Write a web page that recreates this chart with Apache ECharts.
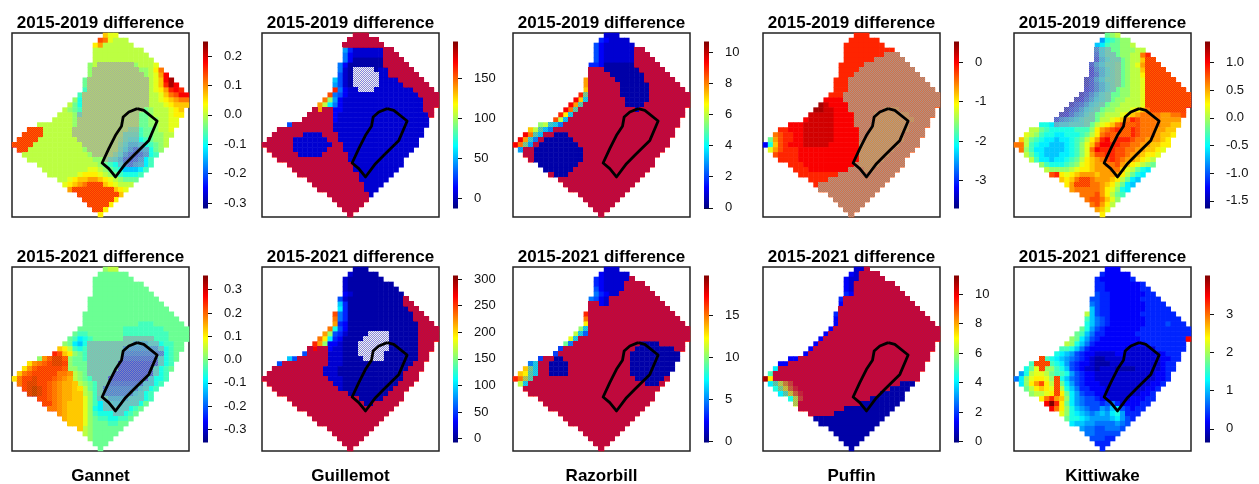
<!DOCTYPE html>
<html><head><meta charset="utf-8">
<style>html,body{margin:0;padding:0;background:#fff}#c{width:1259px;height:484px}</style>
<script src="https://cdn.jsdelivr.net/npm/echarts@6/dist/echarts.min.js"></script>
</head><body><div id="c"></div>
<script>
// Grid rows: run-length codes (count + letter). a..z = level along the colour scale, A..Z = same level, stippled.
const rowStart=[18,17,16,16,16,16,15,15,15,14,14,14,13,12,11,10,9,8,5,3,2,1,0,1,2,3,5,6,7,9,10,11,13,14,15,16,17];
const gannet2019=["rpp","utp3o","qs6o","10o","11o","12o","no7On3op","n9O2noqt","n10Onopsw","m12Ooprwy","m12Ooprvyw","l12Oopqsvwv","l13O2oprtu2w","nk13O2opqrs2t","omk13O3opq3r","onml12Omn3opqr","3onL11O2mn3op2q","4on12O2m2n2o2p","7on12O2m2n2o2p","3W6o11O2Ml2mn2op","4W6o10O3Ll2m2n2o","4W8o8ONL2Kklm2no","4W10o7OMK2IJklmno","2W11on6OLJHFHIkmn","13on4OMKHFEFHkl","13o2nNLKIFEFHjl","12onmlkJGFHIjl","9o2ponmlk3ijl","6op3qponml3kl","2opq2r2srqpon3m","pqrst3Wrqp3o","s8Wrqp","8Wr","6Wq","4Wq","2Wq","q"];
const guillemot2019=["3W","6W","8W","he6c2W","gd6c3W","gd6b4W","gd7b5W","gcb4Cb2c5W","fcb5C2c6W","ifcb5C4c5W","hfcb5C5c5W","vgd2c3C8c4W","ugfd14c4W","tnhd16c3W","sojgd16c3W","Ws2W2d16c2W","5Wd18cW","6Wd18c","f8W19c","11W18c","6W4c3W17c","5W7c2W16c","6W8c2W15c","5W7c3W14c","5W5c5W12c","14W11c","13W10c","12W9c","12W7c","10W6c","10W4c","9W3c","8Wc","7W","5W","3W","W"];
const razorbill2019=["3c","ed4c","fd6c","fd6c2W","fd6c3W","fd6c4W","2ed6b5W","3W7b5W","4W7b5W","s5W6b6W","s6W6b6W","r6W6b7W","vN6W6b8W","wrK7W5b8W","wsM8W4b9W","wtM11Wc9W","vqK22W","uoJ22W","noLKH23W","roMJH24W","wtMJ2W3b21W","wsLHW6b19W","wtNIW8b18W","I2W10b16W","2W10b15W","W10b14W","8b15W","6b15W","W3b15W","16W","14W","12W","9W","7W","5W","3W","W"];
const puffin2019=["3v","6v","8v","10v","8v3U","6v6U","5v9U","4v11U","3v13U","3v15U","3v16U","3v17U","3v19U","4w19U","yx4w18U","2y2x3w7U3T7U","5x4w4U7T5U","w5x4w4U8T3U","3w6x4w4U7T4U","2v3w6x5w2U8T3U","tu2v2w6x5w2U7T4U","msu2v2w6x5wU8T3U","dkruv3w5x6w8T4U","psu3v12w7T4U","u4v12w6T4U","4v12w5T4U","3v10wU4T5U","3v8w3U2T5U","8v11U","4v12U","v13U","12U","9U","7U","5U","3U","U"];
const kittiwake2019=["mno","hklm2n","ijl2m2no","GJL2m3n2o","FJ2Lm2n2otv","EIK2Lmn2or2W","EHJ2LMmnops3W","DGIKLMmn2or4W","DFIKLMmn2oq5W","CEHJ2LMmn2op6W","CEGIKLMmn2op7W","DEGIKLm2n2op8W","CEGIKL2m2n2op9W","CDFHJKLm2n3op9W","CEFHJKLm2n4op9W","CEFHJKLm2n3opqrt7W","CDFHIKLmn3opqrs4t2s2tu","EGHIJK2Lm2opqrtvu4t4s","2kjI2J3KLmopqrtu2Vu4t2s2r","2oml5k3lnqstuv2Vvu3t2s2r","ponl2k2j3klmoqtu4Vvu3ts2rq","romlk2ji2jklmoqsvwV3vu2t3srq","2tolk2j3ijklnpru2w2v2u2t2s2r2q","tnl2j4ijklnptw3v2u2t2s2rqp","omkj3i2jklnps2u2v2ut2sr2qp","ol2ji2jklmoqrstuvut2srqpo","nl3klmnpqr2s2tusrqponm","o4nop2qr3s2trpomkj","uvqpqr3sr4sqomkj","rqrt2Wt3srqomji","qs3W2tsrqomji","s5tsqpnkj","3tusqoml","t2utrpn","tusqo","srp","q"];
const gannet2021=["n2o","6m","8m","10m","11m","12m","14m","15m","16m","18m","19m","11m3l6m","9m8l5m","m2l7m9l4m","mljkl6m6L3l4m","nmjik9L3I2Kk2l2m","rqolkl7L7HKkl2m","vurqnml7L8Gklm","nTV2XVn2ml7L7FKklm","QTUVW2XWn3m6L8EKkl","QTV5WV2n2m6L7EKklm","RUV5W2UTonm5L8EKkl","QU2WX3WVUTSonml3L8EJ2kl","UW2X2WVUT2SRonml2L7F2Jkl","WXYXWVUT2SRQomlL7GJKkl","XYXWVUT2S2RonlL6GJKkl","2WVUT2S2RpnlKL4I3Kkl","2WUTS3Rpnlj2K2J3Kkm","2UTS3Rpnkj5Kklm","TS3Rpnl3k2Kklm","S3Rpnm2l2k2lm","3Rpn3m2l2m","Ron6m","on5m","n4m","3m","m"];
const guillemot2021=["3b","c5b","c7b","c9b","c10b","dc10b","fc11bW","ie11b2W","je12b2W","uge13b2W","tge13b3W","sed14b3W","tkfd14b4W","snfec4b4C6b4W","tqjed4b5C6b4W","vsn2dc3b6C6b3W","Ww2Wd2c3b6C6b3W","f4W3c3b5C7b2W","if6W3c4b4C7b2W","f9W3c14b2W","10W3c14b3W","11W3c13b3W","13W3c12b3W","13W2c11b3W","13Wc10b3W","14W8b3W","14W5b4W","14W2b5W","19W","16W","14W","12W","9W","7W","5W","3W","W"];
const razorbill2021=["3c","d5c","ed5cW","ed4c4W","fd4c5W","ged2c7W","gfdc10W","2Wdc11W","16W","v17W","t18W","q19W","nK20W","oKG20W","pK22W","mH13W4b5W","F14W8b2W","F14W10b","F2W2b13W10b","HK2W4b12W9b","rNK2W4b12W9b","rqMK2W4b12W8b","vtPM20W6bW","oK23W3bW","27W","25W","23W","21W","19W","16W","14W","12W","9W","7W","5W","3W","W"];
const puffin2021=["2cW","dc4W","d2c5W","dc8W","dc9W","ed10W","e13W","d14W","16W","e17W","d18W","d19W","d21W","d22W","d23W","d23W","d24W","d24W","2d26W","2d27W","j29W","l29W","yq29W","jMPSU21W3b","kNQTV18W4b","jMQTV15W5b","kPU13W7b","P12W8b","9W10b","5W11b","14b","12b","9b","7b","5b","3b","b"];
const kittiwake2021=["3d","e5d","e6de","2e7de","2e7d2e","f2e7d2e","2f2e6d4e","gf2e7d4e","if2e7d5e","oif2e6d7e","ligfe7d7e","kigfe7d4ef3e","mkhfe7d10e","mlig2e6d11e","nmjhfe8d9ew","onkige10d8e","2lkige7d6c6e","kjihfe2d4c2d7cd3e","Wlkjihgfedc2b4c7c2d2e","l3Wlkjhfe2dc3b2c8cd2e","kmpW2nlkifed2cb3c4b4ccd2e","hko2pom2lkhfe2d2c9cc2de","gjnp2qpnWkigfe2d2c10c2de","jnqsuqoWmjhfe3dc9c2de","moqrqpWokig2e3d8c2de","n2opqWqmjhf2e2d7c2de","qtvsrnjhg2fe2d4c3d2e","wzvqmjhg3fefgec3d2e","wtqnkihg2fhgijfed2e","pnkjihghihjkh3e","m2kji4hijhfe","j2i2h4ghgf","h2g2f3gf","2g5f","3f2e","3e","e"];

// Colour-bar ranges and tick labels
const gannet2019Range=[-0.319,0.25],  gannet2019Ticks=["-0.3","-0.2","-0.1","0.0","0.1","0.2"];
const guillemot2019Range=[-12.5,196], guillemot2019Ticks=["0","50","100","150"];
const razorbill2019Range=[-0.04,10.67], razorbill2019Ticks=["0","2","4","6","8","10"];
const puffin2019Range=[-3.72,0.535], puffin2019Ticks=["-3","-2","-1","0"];
const kittiwake2019Range=[-1.64,1.38], kittiwake2019Ticks=["-1.5","-1.0","-0.5","0.0","0.5","1.0"];
const gannet2021Range=[-0.356,0.361], gannet2021Ticks=["-0.3","-0.2","-0.1","0.0","0.1","0.2","0.3"];
const guillemot2021Range=[-7.5,306.8], guillemot2021Ticks=["0","50","100","150","200","250","300"];
const razorbill2021Range=[-0.17,19.7], razorbill2021Ticks=["0","5","10","15"];
const puffin2021Range=[-0.07,11.26], puffin2021Ticks=["0","2","4","6","8","10"];
const kittiwake2021Range=[-0.36,4.02], kittiwake2021Ticks=["0","1","2","3"];

const species=["Gannet","Guillemot","Razorbill","Puffin","Kittiwake"];
const periods=["2015-2019 difference","2015-2021 difference"];
// Outline of the study block, in grid units (column, row)
const blockOutline=[[24.75,15.2],[26.07,15.55],[28.7,17.7],[29.04,17.96],[27.06,21.6],[24.09,24.6],[22.44,26.27],[20.46,28.95],[19.14,27.28],[17.82,26.14],[19.14,23.26],[20.46,20.58],[21.65,18.77],[21.98,16.89],[23.1,15.88],[24.75,15.2]];

const COLS=35, ROWS=37;
const ramp=['#00007F','#0000FF','#007FFF','#00FFFF','#7FFF7F','#FFFF00','#FF7F00','#FF0000','#7F0000'];
const FONT='"Liberation Sans",Arial,sans-serif';
const panelLeft=[12,262,513,763,1014], panelTop=[33,267], panelW=177, panelH=184;
const barOffsetX=191, barOffsetY=8.5, barW=5, barH=167;
const BLUE=[34,34,221], AMBER=[255,205,0], GREY=[160,160,170], PALE=[236,236,236];

const panels=[
 {rows:gannet2019,range:gannet2019Range,ticks:gannet2019Ticks,hot:AMBER,low:GREY,hotCov:.35,lowCov:.62},
 {rows:guillemot2019,range:guillemot2019Range,ticks:guillemot2019Ticks,hot:BLUE,low:PALE,hotCov:.27,lowCov:.8},
 {rows:razorbill2019,range:razorbill2019Range,ticks:razorbill2019Ticks,hot:BLUE,low:BLUE,hotCov:.27,lowCov:.27},
 {rows:puffin2019,range:puffin2019Range,ticks:puffin2019Ticks,hot:[150,168,176],low:[150,168,176],hotCov:.58,lowCov:.58},
 {rows:kittiwake2019,range:kittiwake2019Range,ticks:kittiwake2019Ticks,hot:AMBER,low:GREY,hotCov:.35,lowCov:.62},
 {rows:gannet2021,range:gannet2021Range,ticks:gannet2021Ticks,hot:AMBER,low:GREY,hotCov:.35,lowCov:.62},
 {rows:guillemot2021,range:guillemot2021Range,ticks:guillemot2021Ticks,hot:BLUE,low:PALE,hotCov:.27,lowCov:.8},
 {rows:razorbill2021,range:razorbill2021Range,ticks:razorbill2021Ticks,hot:BLUE,low:BLUE,hotCov:.27,lowCov:.27},
 {rows:puffin2021,range:puffin2021Range,ticks:puffin2021Ticks,hot:BLUE,low:BLUE,hotCov:.27,lowCov:.27},
 {rows:kittiwake2021,range:kittiwake2021Range,ticks:kittiwake2021Ticks,hot:AMBER,low:AMBER,hotCov:.35,lowCov:.35}
];

function rampRGB(f){
  const t=Math.min(0.9999,Math.max(0,f))*(ramp.length-1),k=Math.floor(t),u=t-k;
  const a=parseInt(ramp[k].slice(1),16),b=parseInt(ramp[k+1].slice(1),16);
  const mix=s=>((a>>s)&255)*(1-u)+((b>>s)&255)*u;
  return [mix(16),mix(8),mix(0)];
}
function decode(rows,range){
  const cells=[],dots=[];
  rows.forEach((s,r)=>{
    let c=rowStart[r];
    (s.match(/\d*[A-Za-z]/g)||[]).forEach(tok=>{
      const ch=tok[tok.length-1], n=tok.length>1?parseInt(tok,10):1;
      const lvl=ch.toLowerCase().charCodeAt(0)-97;
      const v=range[0]+(range[1]-range[0])*lvl/25;
      for(let i=0;i<n;i++,c++){
        if(c>=COLS) continue;
        cells.push([c,r,v]);
        if(ch<'a') dots.push([c,r,lvl]);
      }
    });
  });
  return {cells,dots};
}
// two checker colours whose mean is the base mixed with the stipple colour
function stippleColors(base,dot,cov){
  const target=base.map((b,k)=>b+(dot[k]-b)*cov);
  const css=sign=>'rgb('+target.map((t,k)=>Math.round(Math.min(255,Math.max(0,t+sign*0.3*(base[k]-t))))).join(',')+')';
  return [css(1),css(-1)];
}
const catX=Array.from({length:COLS},(_,i)=>i), catY=Array.from({length:ROWS},(_,i)=>i);
const grid=[],xAxis=[],yAxis=[],series=[],visualMap=[],title=[];

panels.forEach((p,i)=>{
  const col=i%5,row=Math.floor(i/5),L=panelLeft[col],T=panelTop[row];
  const gi=grid.length;
  grid.push({left:L,top:T,width:panelW,height:panelH,show:true,backgroundColor:'#fff',borderColor:'#222',borderWidth:1.5,z:1});
  grid.push({left:L+barOffsetX,top:T+barOffsetY,width:barW,height:barH,show:false});
  const xi=xAxis.length,yi=yAxis.length;
  xAxis.push({type:'category',gridIndex:gi,data:catX,show:false});
  xAxis.push({type:'value',gridIndex:gi,min:0,max:COLS,show:false});
  xAxis.push({type:'value',gridIndex:gi+1,min:0,max:1,show:false});
  yAxis.push({type:'category',gridIndex:gi,data:catY,inverse:true,show:false});
  yAxis.push({type:'value',gridIndex:gi,min:0,max:ROWS,inverse:true,show:false});
  const tickVals=p.ticks.map(Number);
  yAxis.push({type:'value',gridIndex:gi+1,min:p.range[0],max:p.range[1],position:'right',
    splitLine:{show:false},axisLine:{show:false},
    axisTick:{show:true,length:9,lineStyle:{color:'#111',width:1},customValues:tickVals},
    axisLabel:{show:true,margin:16,fontFamily:FONT,fontSize:13,color:'#111',customValues:tickVals,
      formatter:v=>{const k=tickVals.findIndex(t=>Math.abs(t-v)<1e-9);return k>=0?p.ticks[k]:'';}}});
  const d=decode(p.rows,p.range);
  const tones={};
  const toneFor=lvl=>{
    if(!tones[lvl]){const hot=lvl>=15;tones[lvl]=stippleColors(rampRGB(lvl/25),hot?p.hot:p.low,hot?p.hotCov:p.lowCov);}
    return tones[lvl];
  };
  const si=series.length;
  series.push({type:'heatmap',xAxisIndex:xi,yAxisIndex:yi,data:d.cells,silent:true,progressive:0,animation:false,z:2,
    itemStyle:{borderWidth:0},emphasis:{disabled:true}});
  visualMap.push({type:'continuous',show:false,seriesIndex:si,dimension:2,min:p.range[0],max:p.range[1],inRange:{color:ramp}});
  series.push({type:'custom',xAxisIndex:xi,yAxisIndex:yi,data:d.dots,silent:true,animation:false,z:3,clip:true,progressive:0,
    renderItem:(params,api)=>{
      const c=api.coord([api.value(0),api.value(1)]),s=api.size([1,1]);
      const x=Math.floor(c[0]-s[0]/2),y=Math.floor(c[1]-s[1]/2),w=Math.ceil(s[0]),h=Math.ceil(s[1]);
      const tone=toneFor(api.value(2));
      const children=[{type:'rect',shape:{x,y,width:w,height:h},style:{fill:tone[0]}}];
      for(let yy=y;yy<y+h;yy++){
        children.push({type:'line',shape:{x1:x,y1:yy+.5,x2:x+w,y2:yy+.5},
          style:{stroke:tone[1],fill:null,lineWidth:1,lineDash:[1,1],lineDashOffset:(x+yy)%2}});
      }
      return {type:'group',children};
    }});
  series.push({type:'line',xAxisIndex:xi+1,yAxisIndex:yi+1,data:blockOutline,showSymbol:false,silent:true,animation:false,z:5,clip:false,
    lineStyle:{color:'#000',width:2.8,join:'round'}});
  const stops=ramp.map((c,k)=>({offset:k/(ramp.length-1),color:c}));
  series.push({type:'custom',xAxisIndex:xi+2,yAxisIndex:yi+2,data:[[0,p.range[0],1,p.range[1]]],silent:true,animation:false,z:2,clip:false,
    encode:{x:[0,2],y:[1,3]},
    renderItem:(params,api)=>{
      const a=api.coord([api.value(0),api.value(1)]),b=api.coord([api.value(2),api.value(3)]);
      return {type:'rect',shape:{x:a[0],y:b[1],width:b[0]-a[0],height:a[1]-b[1]},
        style:{fill:{type:'linear',x:0,y:1,x2:0,y2:0,colorStops:stops}}};
    }});
  title.push({text:periods[row],left:L+panelW/2,top:T-19,padding:0,textAlign:'center',
    textStyle:{fontFamily:FONT,fontSize:17,fontWeight:'bold',color:'#000',lineHeight:18}});
  if(row===1) title.push({text:species[col],left:L+panelW/2,top:467,padding:0,textAlign:'center',
    textStyle:{fontFamily:FONT,fontSize:17,fontWeight:'bold',color:'#000',lineHeight:18}});
});
const chart=echarts.init(document.getElementById('c'),null,{renderer:'canvas',width:1259,height:484});
chart.setOption({animation:false,backgroundColor:'#fff',title,grid,xAxis,yAxis,visualMap,series});
</script></body></html>
